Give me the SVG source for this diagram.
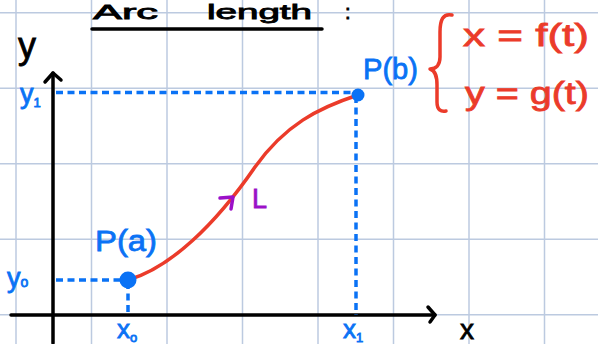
<svg xmlns="http://www.w3.org/2000/svg" width="598" height="344" viewBox="0 0 598 344">
  <style>
    .grid { stroke: #bccae0; stroke-width: 1.5; fill: none; }
    .axis { stroke: #000; stroke-width: 3.5; fill: none; stroke-linecap: round; stroke-linejoin: round; }
    .dash { stroke: #0a72f5; stroke-width: 3.5; fill: none; stroke-dasharray: 7 4.5; }
    .blue { fill: #0a72f5; font-family: "Liberation Sans", "DejaVu Sans", sans-serif; stroke: #0a72f5; stroke-width: 0.8; }
    .red { fill: #eb3b2a; font-family: "Liberation Sans", "DejaVu Sans", sans-serif; stroke: #eb3b2a; stroke-width: 0.8; }
    .black { fill: #000; font-family: "Liberation Sans", "DejaVu Sans", sans-serif; stroke: #000; stroke-width: 0.8; }
    .purple { fill: #9c10c8; font-family: "Liberation Sans", "DejaVu Sans", sans-serif; }
  </style>
  <rect width="598" height="344" fill="#fff"/>
  <g id="grid" class="grid">
    <line x1="16" y1="0" x2="16" y2="344"/>
    <line x1="91.5" y1="0" x2="91.5" y2="344"/>
    <line x1="167" y1="0" x2="167" y2="344"/>
    <line x1="242.5" y1="0" x2="242.5" y2="344"/>
    <line x1="318" y1="0" x2="318" y2="344"/>
    <line x1="393.5" y1="0" x2="393.5" y2="344"/>
    <line x1="469" y1="0" x2="469" y2="344"/>
    <line x1="544.5" y1="0" x2="544.5" y2="344"/>
    <line x1="0" y1="12.7" x2="598" y2="12.7"/>
    <line x1="0" y1="88.2" x2="598" y2="88.2"/>
    <line x1="0" y1="163.7" x2="598" y2="163.7"/>
    <line x1="0" y1="239.2" x2="598" y2="239.2"/>
    <line x1="0" y1="314.7" x2="598" y2="314.7"/>
  </g>
  <g id="title">
    <text class="black" y="19" font-size="20"><tspan x="93" textLength="65" lengthAdjust="spacingAndGlyphs">Arc</tspan><tspan x="207" textLength="105" lengthAdjust="spacingAndGlyphs">length</tspan><tspan x="345">:</tspan></text>
    <line x1="92" y1="29" x2="322" y2="29" stroke="#000" stroke-width="3.5" stroke-linecap="round"/>
  </g>
  <g id="axes">
    <line class="axis" x1="53" y1="73" x2="53" y2="343"/>
    <polyline class="axis" points="45,82 53,73 61,80"/>
    <line class="axis" x1="11" y1="315" x2="435" y2="315"/>
    <polyline class="axis" points="428,307 435,315 430,322"/>
    <text class="black" x="18" y="58" font-size="36">y</text>
    <text class="black" x="460" y="339" font-size="28">x</text>
  </g>
  <g id="guides">
    <line class="dash" x1="56" y1="92.5" x2="356" y2="92.5"/>
    <line class="dash" x1="356" y1="96" x2="356" y2="315"/>
    <line class="dash" x1="56" y1="280" x2="124" y2="280"/>
    <line class="dash" x1="128" y1="282" x2="128" y2="315"/>
    <text class="blue" x="20" y="103" font-size="27">y<tspan font-size="13" dy="4">1</tspan></text>
    <text class="blue" x="7" y="287" font-size="27">y<tspan font-size="14" dy="0">o</tspan></text>
    <text class="blue" x="117" y="338" font-size="26">x<tspan font-size="13" dy="4">o</tspan></text>
    <text class="blue" x="343" y="338" font-size="26">x<tspan font-size="13" dy="4">1</tspan></text>
  </g>
  <g id="connectors">
    <path d="M128,280 C170,268 215,225 255,167 C285,125 318,108 358,95" fill="none" stroke="#eb3b2a" stroke-width="3.5" stroke-linecap="round"/>
    <polyline points="220,198 233,197 231,209" fill="none" stroke="#9c10c8" stroke-width="3.5" stroke-linecap="round" stroke-linejoin="round"/>
    <text class="purple" x="252" y="208" font-size="27" stroke="#9c10c8" stroke-width="0.8">L</text>
  </g>
  <g id="node-Pa">
    <circle cx="128" cy="280" r="8.5" fill="#0a72f5"/>
    <text class="blue" x="95" y="251" font-size="30" textLength="62" lengthAdjust="spacingAndGlyphs">P(a)</text>
  </g>
  <g id="node-Pb">
    <circle cx="358" cy="95" r="6.5" fill="#0a72f5"/>
    <text class="blue" x="363" y="79" font-size="30" textLength="55" lengthAdjust="spacingAndGlyphs">P(b)</text>
  </g>
  <g id="equations">
    <path d="M452,15 C443,13 440,20 440,32 L440,57 C440,65 436,69 430,69 C436,71 437,77 437,85 L437,102 C437,110 441,112 446,111" fill="none" stroke="#eb3b2a" stroke-width="3.5" stroke-linecap="round" stroke-linejoin="round"/>
    <text class="red" x="463" y="46" font-size="32" textLength="126" lengthAdjust="spacingAndGlyphs">x = f(t)</text>
    <text class="red" x="465" y="104" font-size="32" textLength="124" lengthAdjust="spacingAndGlyphs">y = g(t)</text>
  </g>
</svg>
